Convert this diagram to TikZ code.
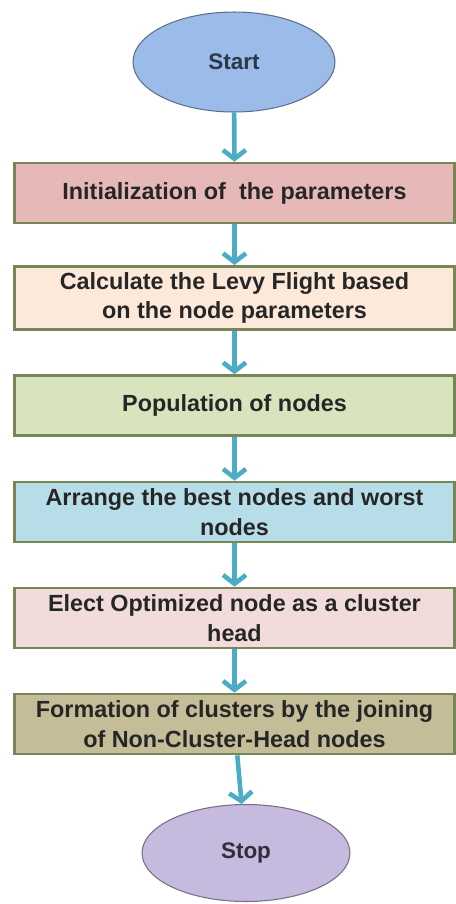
\documentclass[tikz,border=0pt]{standalone}
\usepackage{fontspec}
\setmainfont{Liberation Sans}
\usetikzlibrary{shapes.geometric,arrows.meta,positioning}
\definecolor{colorST}{RGB}{155,187,232}
\definecolor{colorIN}{RGB}{230,185,184}
\definecolor{colorLF}{RGB}{253,233,217}
\definecolor{colorPN}{RGB}{215,228,189}
\definecolor{colorAR}{RGB}{183,222,232}
\definecolor{colorEL}{RGB}{242,220,219}
\definecolor{colorFC}{RGB}{196,189,151}
\definecolor{colorSP}{RGB}{198,186,222}
\definecolor{colorBD}{RGB}{118,134,86}
\definecolor{colorAW}{RGB}{75,172,198}
\tikzset{
   every node/.style={font=\fontsize{13.3}{17}\selectfont\bfseries},
   term/.style={ellipse,draw=#1!60!black,line width=0.6pt,fill=#1,minimum width=4.04cm,minimum height=2cm,font=\fontsize{12.8}{15}\selectfont\bfseries},
   proc/.style={rectangle,draw=colorBD,line width=1.5pt,fill=#1,minimum width=8.8cm,minimum height=1.2cm,align=center,text=black!85},
   flow/.style={-{Straight Barb[length=5pt,width=13pt]},color=colorAW,line width=2.6pt},
}

\begin{document}
\begin{tikzpicture}[x=0.02cm,y=-0.02cm]
  \useasboundingbox (0,0) rectangle (456,904);

  \node (start) [term=colorST, text=colorST!30!black] at (234,62) {Start};

  \node (init) [proc=colorIN] at (234.5,193) {Initialization of~ the parameters};
  \node (levy) [proc=colorLF] at (234.5,298) {Calculate the Levy Flight based\\on the node parameters};
  \node (popu) [proc=colorPN] at (234.5,405.5) {Population of nodes};
  \node (arrange) [proc=colorAR] at (234.5,512) {Arrange the best nodes and worst\\nodes};
  \node (elect) [proc=colorEL] at (234.5,618) {Elect Optimized node as a cluster\\head};
  \node (form) [proc=colorFC] at (234.5,724) {Formation of clusters by the joining\\of Non-Cluster-Head nodes};

  \node (stop) [term=colorSP, minimum width=4.16cm, minimum height=1.94cm, text=colorSP!25!black] at (246,853) {Stop};

  % connectors
  \draw[flow] (start) -- (init);
  \draw[flow] (init) -- (levy);
  \draw[flow] (levy) -- (popu);
  \draw[flow] (popu) -- (arrange);
  \draw[flow] (arrange) -- (elect);
  \draw[flow] (elect) -- (form);
  \draw[flow] (form) -- (stop);
\end{tikzpicture}
\end{document}
